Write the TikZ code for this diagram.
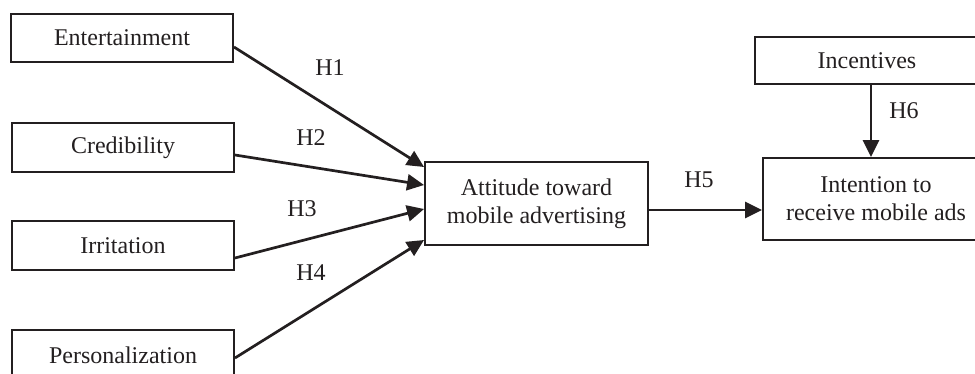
\documentclass[tikz,border=0pt]{standalone}
\usepackage{fontspec}
\setmainfont{Liberation Serif}
\usetikzlibrary{arrows.meta}
\definecolor{ink}{HTML}{231F20}
\begin{document}
\begin{tikzpicture}[x=1pt,y=-1pt,
  box/.style={draw=ink,line width=1.9pt,rectangle,inner sep=0pt,align=center,text=ink,
    font=\fontsize{24}{28}\selectfont},
  lbl/.style={text=ink,inner sep=0pt,font=\fontsize{24}{28}\selectfont},
  arr/.style={draw=ink,line width=2.7pt,-{Triangle[length=17pt,width=16pt]}}]
\useasboundingbox (0,0) rectangle (975,374);
\clip (0,0) rectangle (975,374);
\node[box,minimum width=222pt,minimum height=48pt] (ent) at (122,38) {Entertainment};
\node[box,minimum width=222pt,minimum height=49pt] (cre) at (123,147.5) {Credibility};
\node[box,minimum width=222pt,minimum height=49pt] (irr) at (123,245.5) {Irritation};
\node[box,minimum width=222pt,minimum height=50pt] (per) at (123,355) {Personalization};
\node[box,minimum width=223pt,minimum height=83pt] (att) at (536.5,203.5) {Attitude toward\\mobile advertising};
\node[box,minimum width=226pt,minimum height=82pt] (int) at (876,199) {Intention to\\receive mobile ads};
\node[box,minimum width=224pt,minimum height=47pt] (inc) at (867,60.5) {Incentives};
\draw[arr] ([yshift=-9pt]ent.east) -- ([yshift=36.5pt]att.west);
\draw[arr] ([yshift=-7.5pt]cre.east) -- ([yshift=18.5pt]att.west);
\draw[arr] ([yshift=-12.5pt]irr.east) -- ([yshift=-5.5pt]att.west);
\draw[arr] ([yshift=-3pt]per.east) -- ([yshift=-36.5pt]att.west);
\draw[arr] ([yshift=-6.5pt]att.east) -- ([yshift=-6.5pt]att.east -| int.west);
\draw[arr] ([xshift=4pt]inc.south) -- ([xshift=4pt]inc.south |- int.north);
\node[lbl] (h1) at (330,68) {H1};
\node[lbl] (h2) at (311,138) {H2};
\node[lbl] (h3) at (302,209) {H3};
\node[lbl] (h4) at (311,273) {H4};
\node[lbl] (h5) at (699,180) {H5};
\node[lbl] (h6) at (904,111) {H6};
\end{tikzpicture}
\end{document}
